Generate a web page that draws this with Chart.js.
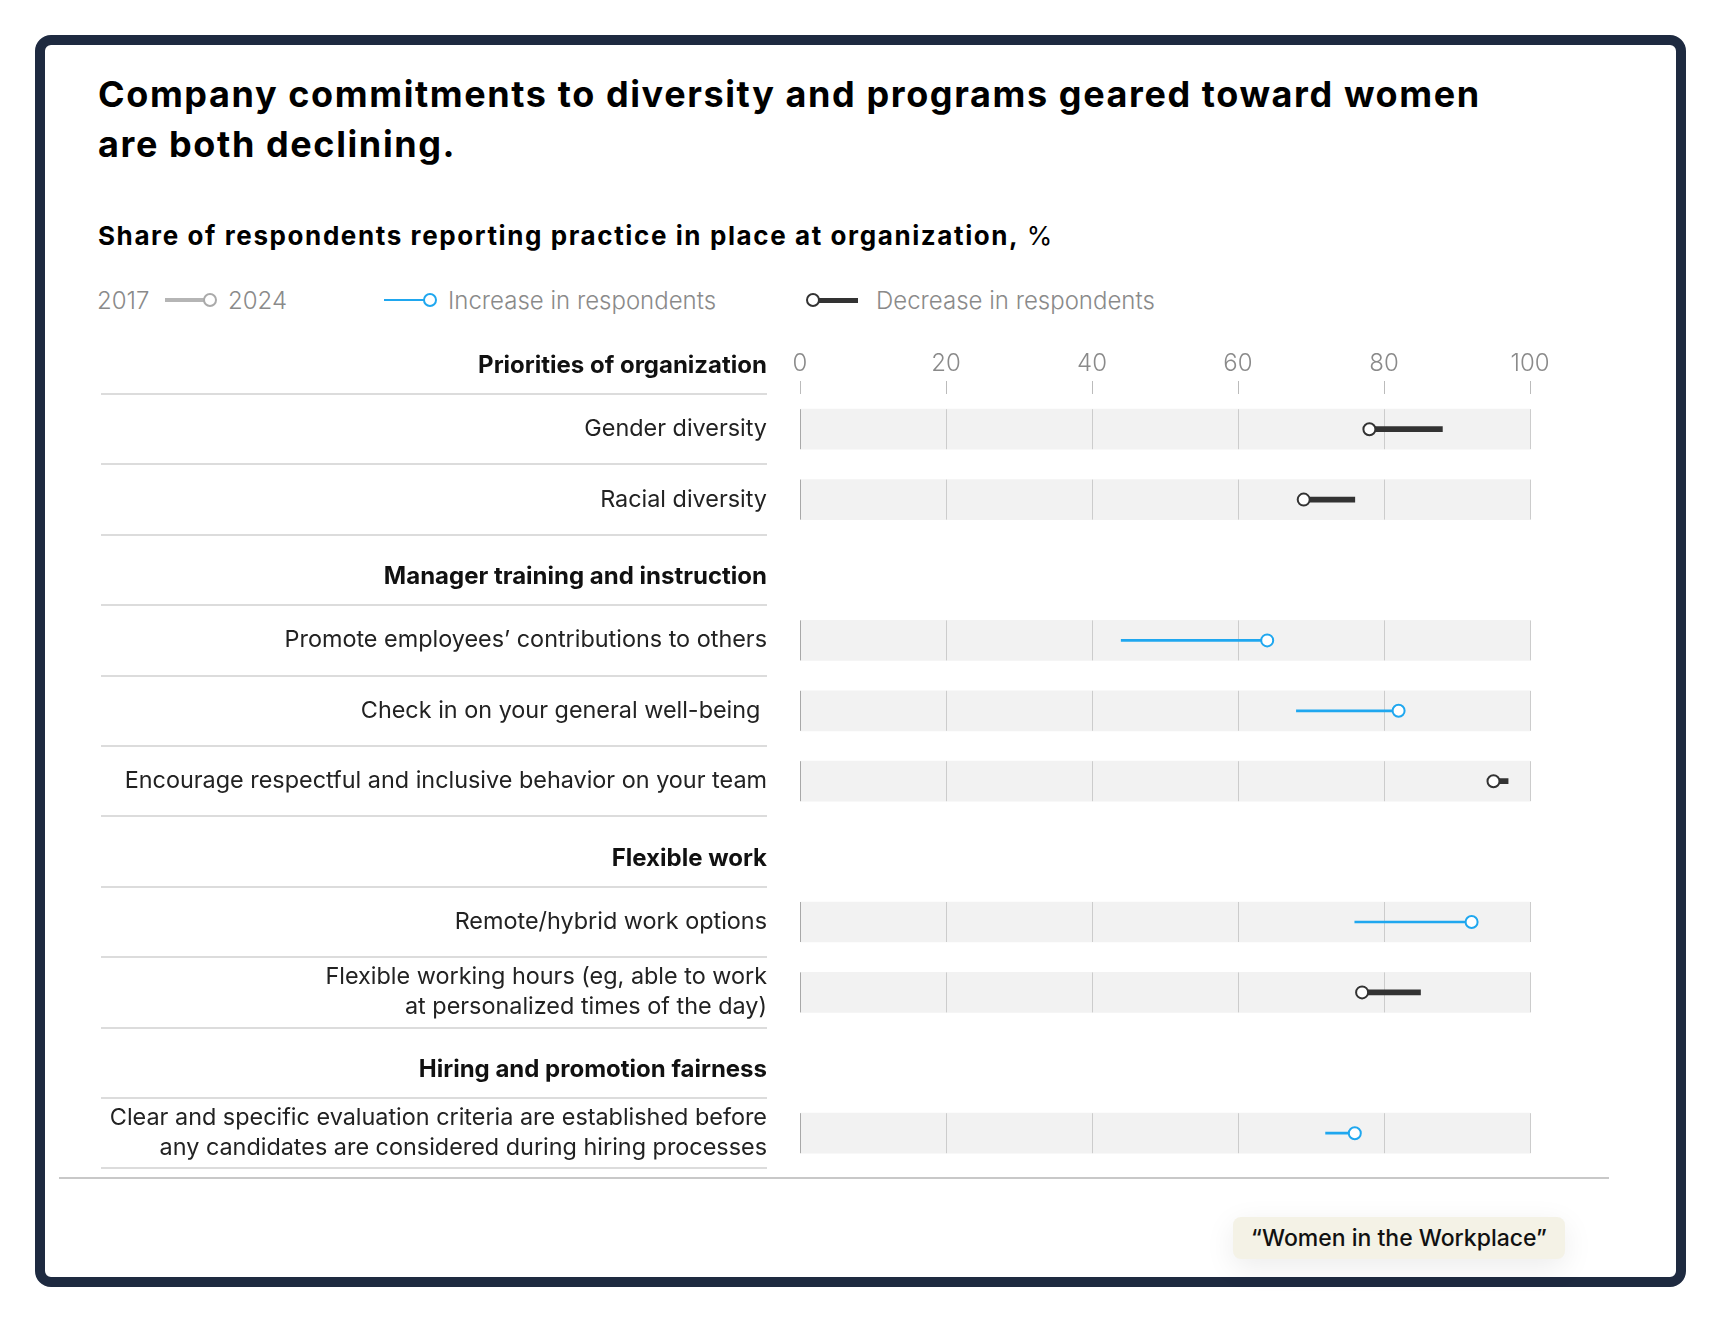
<!DOCTYPE html>
<html>
<head>
<meta charset="utf-8">
<title>Company commitments to diversity</title>
<script src="https://cdn.jsdelivr.net/npm/chart.js@4.4.1/dist/chart.umd.min.js"></script>
<style>
    html, body { margin: 0; padding: 0; background: #fff; }
    body { width: 1721px; height: 1323px; position: relative; overflow: hidden; font-family: Inter, "Noto Sans", sans-serif; }
    .card { position: absolute; left: 35px; top: 35px; width: 1651px; height: 1252px; box-sizing: border-box; border: 10px solid #1e2a40; border-radius: 16px; }
    .title { position: absolute; left: 98px; top: 69px; margin: 0; font-size: 36px; line-height: 50px; font-weight: 700; letter-spacing: 1.6px; color: #000; white-space: nowrap; }
    .subtitle { position: absolute; left: 98px; top: 221px; margin: 0; font-size: 26px; line-height: 30px; font-weight: 700; letter-spacing: 1.6px; color: #000; white-space: nowrap; }
    .subtitle span { font-weight: 400; letter-spacing: 0; }
    .lg-txt { position: absolute; top: 287px; font-size: 24px; line-height: 28px; color: #8a8a8a; font-weight: 300; white-space: nowrap; }
    .lg-line { position: absolute; }
    .lg-dot { position: absolute; width: 14px; height: 14px; box-sizing: border-box; border: 2px solid; border-radius: 50%; background: #fff; }
    #chartBox { position: absolute; left: 60px; top: 320px; width: 1560px; height: 857px; overflow: hidden; }
    .rule { position: absolute; left: 59px; top: 1177px; width: 1550px; height: 2px; background: #c8c8c8; }
    .badge { position: absolute; left: 1233px; top: 1217px; width: 332px; height: 42px; line-height: 42px; text-align: center; background: #f4f2e6; border-radius: 8px; box-shadow: 0 8px 30px rgba(0,0,0,0.08); font-size: 23px; font-weight: 500; color: #111; }
</style>
</head>
<body>
<div class="card"></div>

<h1 class="title">Company commitments to diversity and programs geared toward women<br>are both declining.</h1>
<h2 class="subtitle">Share of respondents reporting practice in place at organization,<span> %</span></h2>

<div class="legend">
    <span class="lg-txt" style="left:97px">2017</span>
    <div class="lg-line" style="left:165px;top:298px;width:40px;height:4px;background:#b5b5b5"></div>
    <div class="lg-dot" style="left:203px;top:293px;border-color:#aaaaaa"></div>
    <span class="lg-txt" style="left:228px">2024</span>

    <div class="lg-line" style="left:384px;top:299px;width:42px;height:2px;background:#1fa7ef"></div>
    <div class="lg-dot" style="left:423px;top:293px;border-color:#1fa7ef"></div>
    <span class="lg-txt" style="left:448px">Increase in respondents</span>

    <div class="lg-line" style="left:819px;top:298px;width:39px;height:5px;background:#333"></div>
    <div class="lg-dot" style="left:806px;top:293px;border-color:#333"></div>
    <span class="lg-txt" style="left:876px">Decrease in respondents</span>
</div>

<div id="chartBox"><canvas id="myChart" width="1560" height="857"></canvas></div>
<div class="rule"></div>
<div class="badge">“Women in the Workplace”</div>

<script>
// rows under the first section header; section headers have no values
const firstSection = 'Priorities of organization';
const categories = [
    'Gender diversity',
    'Racial diversity',
    'Manager training and instruction',
    'Promote employees’ contributions to others',
    'Check in on your general well-being ',
    'Encourage respectful and inclusive behavior on your team',
    'Flexible work',
    'Remote/hybrid work options',
    ['Flexible working hours (eg, able to work', 'at personalized times of the day)'],
    'Hiring and promotion fairness',
    ['Clear and specific evaluation criteria are established before', 'any candidates are considered during hiring processes']
];
const sectionRows = [false, false, true, false, false, false, true, false, false, true, false];
const share2017 = [88, 76, null, 44, 68, 97, null, 76, 85, null, 72];
const share2024 = [78, 69, null, 64, 82, 95, null, 92, 77, null, 76];
const xTicks = [0, 20, 40, 60, 80, 100];

const BLUE = '#1fa7ef';
const DARK = '#333333';
const ROW_PX = 70.4;     // height of one row
const BAND_PX = 40;      // grey band height
const AXIS_W = 740;      // label column width (canvas px)
const AXIS_H = 74;       // space above first row
const SEP_LEFT = 41, SEP_RIGHT = 707, LABEL_RIGHT = 707;

const canvasH = 857;
const padBottom = canvasH - AXIS_H - categories.length * ROW_PX;

const bandData = categories.map(function (c, i) { return sectionRows[i] ? null : [0, 100]; });
const upData = share2017.map(function (a, i) {
    return (a != null && share2024[i] > a) ? [a, share2024[i]] : null;
});
const downData = share2017.map(function (a, i) {
    return (a != null && share2024[i] < a) ? [share2024[i], a] : null;
});
const dotColors = share2024.map(function (b, i) { return b > share2017[i] ? BLUE : DARK; });

// vertical grid inside the bands, row separators in the label column
const rowDecor = {
    id: 'rowDecor',
    afterDatasetDraw(chart, args) {
        if (args.index !== 0) return;
        const ctx = chart.ctx, x = chart.scales.x, y = chart.scales.y;
        ctx.save();
        ctx.lineWidth = 1;
        categories.forEach(function (c, i) {
            if (sectionRows[i]) return;
            const yc = y.getPixelForValue(i);
            xTicks.forEach(function (v) {
                const px = Math.round(x.getPixelForValue(v)) + 0.5;
                ctx.strokeStyle = v === 0 ? '#a8a8a8' : '#cccccc';
                ctx.beginPath();
                ctx.moveTo(px, yc - BAND_PX / 2);
                ctx.lineTo(px, yc + BAND_PX / 2);
                ctx.stroke();
            });
        });
        ctx.restore();
    },
    afterDraw(chart) {
        const ctx = chart.ctx, y = chart.scales.y;
        const step = y.getPixelForValue(1) - y.getPixelForValue(0);
        ctx.save();
        ctx.strokeStyle = '#dcdcdc';
        ctx.lineWidth = 2;
        for (let k = 0; k <= categories.length; k++) {
            const py = Math.round(y.getPixelForValue(k) - step / 2);
            ctx.beginPath();
            ctx.moveTo(SEP_LEFT, py);
            ctx.lineTo(SEP_RIGHT, py);
            ctx.stroke();
        }
        ctx.font = '700 24px Inter';
        ctx.fillStyle = '#111';
        ctx.textAlign = 'right';
        ctx.textBaseline = 'middle';
        ctx.fillText(firstSection, LABEL_RIGHT, y.top - step / 2 + 7);
        ctx.restore();
    }
};

const ctx = document.getElementById('myChart').getContext('2d');
const myChart = new Chart(ctx, {
    type: 'bar',
    data: {
        labels: categories,
        datasets: [
            { label: 'band', data: bandData, backgroundColor: '#f2f2f2', barThickness: BAND_PX, grouped: false, order: 3 },
            { label: 'Increase in respondents', data: upData, backgroundColor: BLUE, barThickness: 2, grouped: false, order: 2 },
            { label: 'Decrease in respondents', data: downData, backgroundColor: DARK, barThickness: 5, grouped: false, order: 2 },
            {
                type: 'line', label: '2024', data: share2024, showLine: false, order: 1,
                pointRadius: 6, pointHoverRadius: 6, pointBorderWidth: 2,
                pointBackgroundColor: '#fff', pointBorderColor: dotColors
            }
        ]
    },
    options: {
        indexAxis: 'y',
        responsive: false,
        animation: false,
        layout: { autoPadding: false, padding: { left: 0, right: 90, top: 0, bottom: padBottom } },
        plugins: { legend: { display: false }, tooltip: { enabled: false } },
        scales: {
            x: {
                position: 'top',
                min: 0,
                max: 100,
                afterFit: function (scale) {
                    scale.height = AXIS_H;
                    scale.paddingLeft = 0;
                    scale.paddingRight = 0;
                },
                afterBuildTicks: function (scale) { scale.ticks = xTicks.map(function (v) { return { value: v }; }); },
                border: { display: false },
                grid: { drawOnChartArea: false, drawTicks: true, tickLength: 13, color: '#bbbbbb' },
                ticks: { padding: 3, color: '#8a8a8a', font: { family: 'Inter', size: 24, weight: 300 } }
            },
            y: {
                afterFit: function (scale) {
                    scale.width = AXIS_W;
                    scale.paddingTop = 0;
                    scale.paddingBottom = 0;
                },
                border: { display: false },
                grid: { display: false },
                ticks: {
                    autoSkip: false,
                    padding: 25,
                    // section headers sit a little below the row middle
                    callback: function (value, index) {
                        const lab = this.getLabelForValue(value);
                        return sectionRows[index] ? ['', lab] : lab;
                    },
                    color: function (c) { return sectionRows[c.index] ? '#111' : '#222'; },
                    font: function (c) {
                        return sectionRows[c.index]
                            ? { family: 'Inter', size: 24, lineHeight: '14px', weight: 700 }
                            : { family: 'Inter', size: 23.4, lineHeight: 1.28, weight: 400 };
                    }
                }
            }
        }
    },
    plugins: [rowDecor]
});
</script>
</body>
</html>
